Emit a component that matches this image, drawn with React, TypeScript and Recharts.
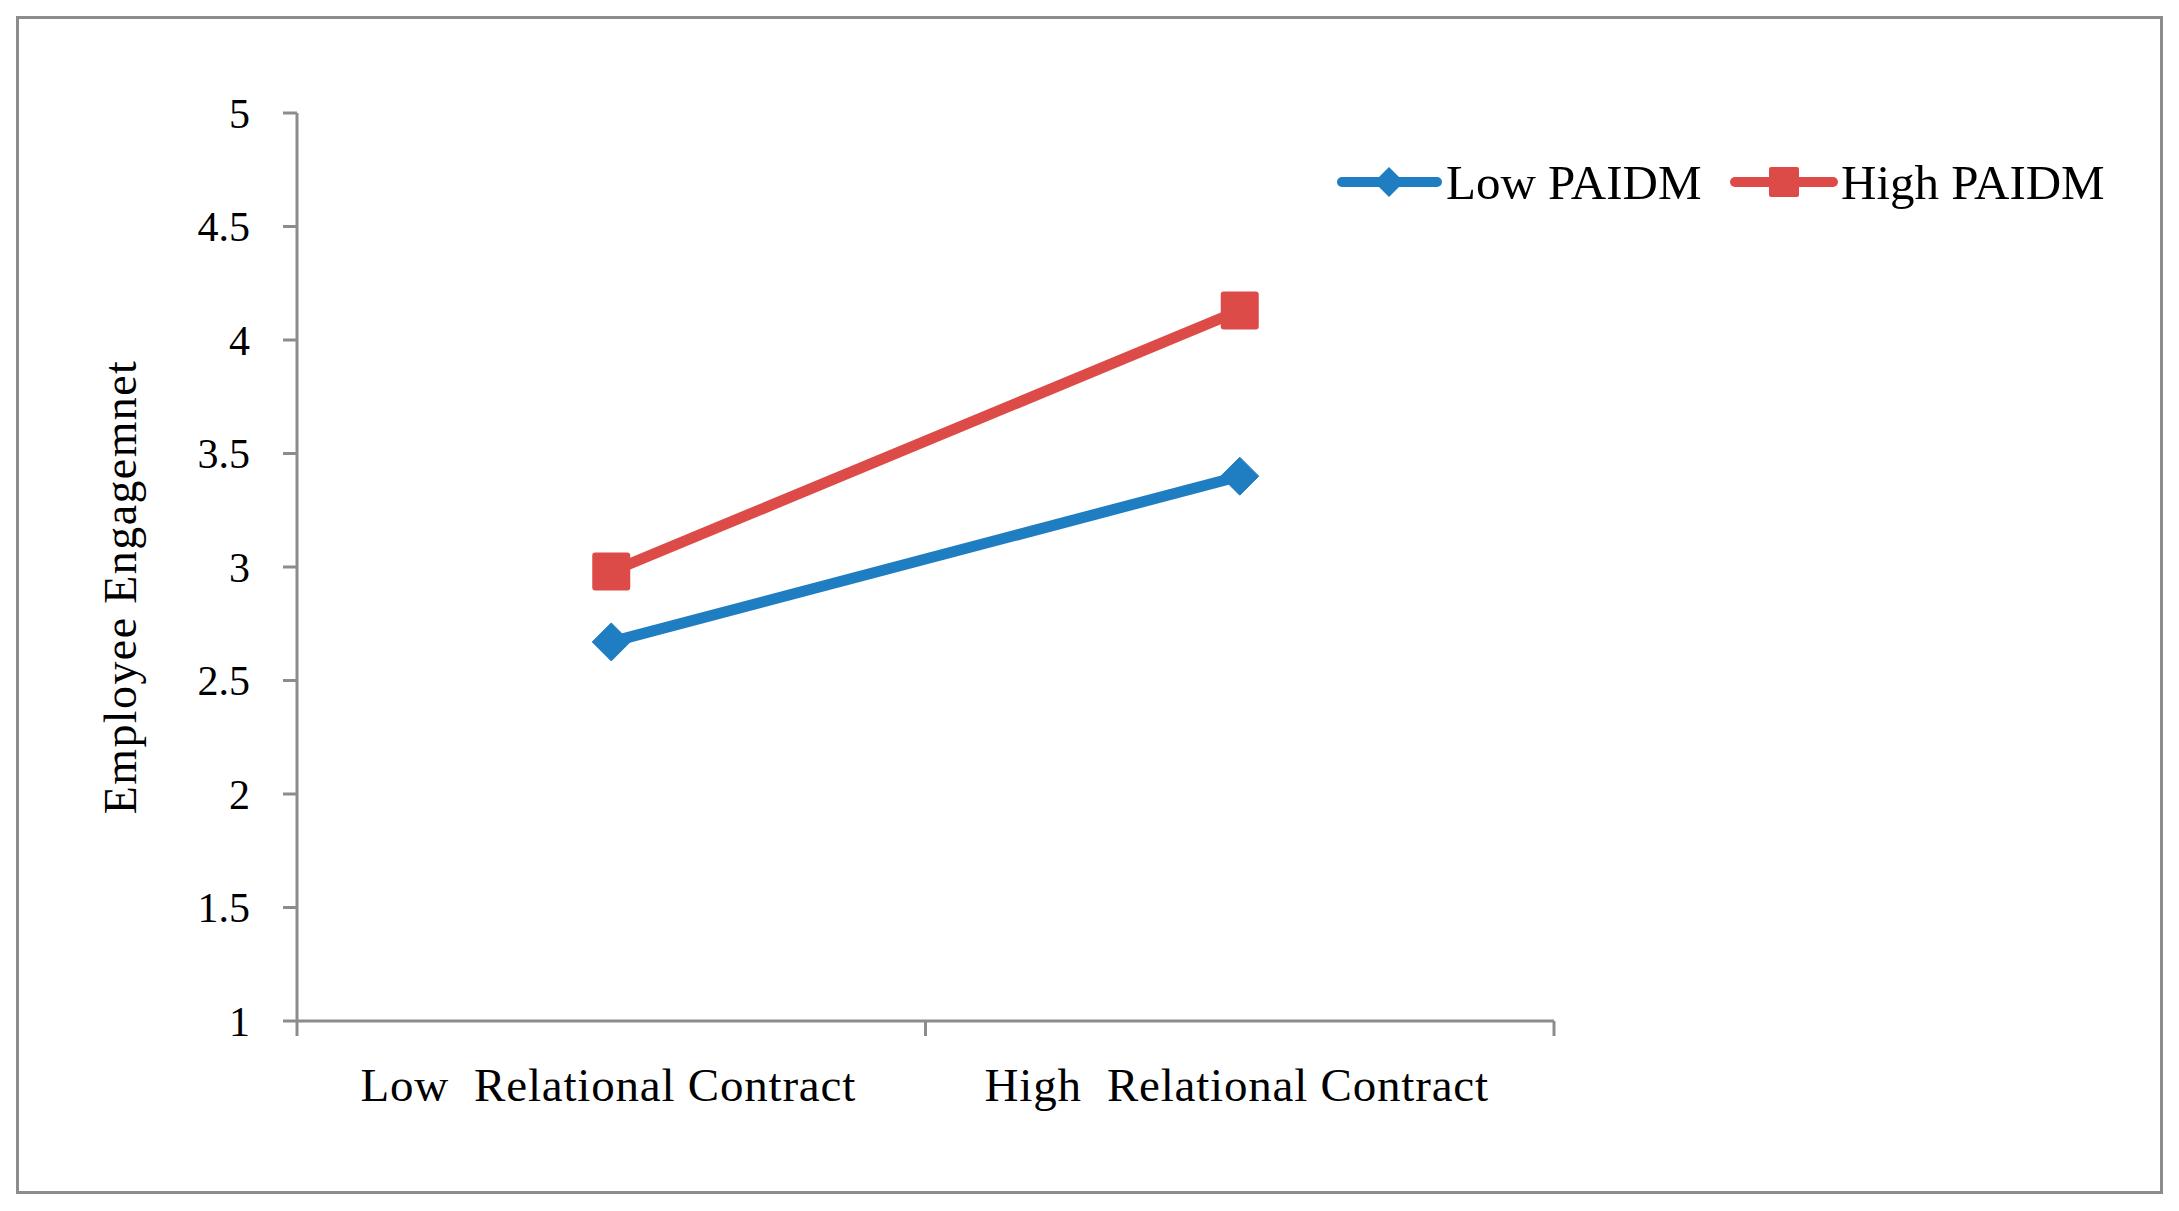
import React from 'react';
import { LineChart, Line, XAxis, YAxis } from 'recharts';

// Simple-slopes plot: employee engagement by relational contract level,
// split by low / high PAIDM.
const categories = ['Low  Relational Contract', 'High  Relational Contract'];
const lowPaidm = [2.67, 3.4];
const highPaidm = [2.98, 4.13];
const yTicks = [1, 1.5, 2, 2.5, 3, 3.5, 4, 4.5, 5];
const seriesNames = ['Low PAIDM', 'High PAIDM'];
const yTitle = 'Employee Engagemnet';

const data = categories.map((category, i) => ({
  category,
  low: lowPaidm[i],
  high: highPaidm[i],
}));

const BLUE = '#1F7DC1';
const RED = '#DD4B49';
const AXIS = '#8C8C8C';
const FONT = '"Liberation Serif", "Times New Roman", serif';

const W = 2179;
const H = 1211;

const DiamondDot = (props: any) => {
  const { cx, cy } = props;
  if (cx == null || cy == null) return null;
  const r = 19;
  return (
    <polygon
      points={`${cx},${cy - r} ${cx + r},${cy} ${cx},${cy + r} ${cx - r},${cy}`}
      fill={BLUE}
      stroke={BLUE}
      strokeWidth={1}
      strokeLinejoin="round"
    />
  );
};

const SquareDot = (props: any) => {
  const { cx, cy } = props;
  if (cx == null || cy == null) return null;
  const s = 38;
  return <rect x={cx - s / 2} y={cy - s / 2} width={s} height={s} rx={3} fill={RED} />;
};

// Category labels centred in each band, with tick marks at band boundaries.
const CategoryTick = (props: any) => {
  const { x, y, payload, index, visibleTicksCount } = props;
  const half = payload && typeof payload.offset === 'number' && payload.offset > 0 ? payload.offset : 314;
  const last = index === (visibleTicksCount ?? categories.length) - 1;
  return (
    <g>
      <line x1={x - half} x2={x - half} y1={y} y2={y + 15} stroke={AXIS} strokeWidth={3} />
      {last && <line x1={x + half} x2={x + half} y1={y} y2={y + 15} stroke={AXIS} strokeWidth={3} />}
      <text
        x={x - 3}
        y={y + 47}
        dy="0.71em"
        textAnchor="middle"
        fontFamily={FONT}
        fontSize={47}
        letterSpacing={0.8}
        fill="#000"
        style={{ whiteSpace: 'pre' }}
      >
        {payload.value}
      </text>
    </g>
  );
};

const YTitle = (props: any) => {
  const { viewBox } = props;
  const cx = 136;
  const cy = viewBox.y + viewBox.height / 2 + 20;
  return (
    <text
      x={cx}
      y={cy}
      transform={`rotate(-90 ${cx} ${cy})`}
      textAnchor="middle"
      fontFamily={FONT}
      fontSize={46}
      letterSpacing={1.4}
      fill="#000"
    >
      {yTitle}
    </text>
  );
};

const SeriesLegend = () => (
  <svg width={820} height={70} style={{ position: 'absolute', left: 1337, top: 150, overflow: 'visible' }}>
    <line x1={5} x2={100} y1={32} y2={32} stroke={BLUE} strokeWidth={10} strokeLinecap="round" />
    <polygon points="52,17 67,32 52,47 37,32" fill={BLUE} />
    <text x={109} y={32} dy="0.35em" fontFamily={FONT} fontSize={49} fill="#000">
      {seriesNames[0]}
    </text>
    <line x1={398} x2={496} y1={32} y2={32} stroke={RED} strokeWidth={10} strokeLinecap="round" />
    <rect x={432} y={17} width={30} height={30} rx={2} fill={RED} />
    <text x={504} y={32} dy="0.35em" fontFamily={FONT} fontSize={49} fill="#000">
      {seriesNames[1]}
    </text>
  </svg>
);

export default function App() {
  return (
    <div style={{ position: 'absolute', left: 0, top: 0, width: W, height: H, background: '#fff' }}>
      <div
        style={{
          position: 'absolute',
          left: 16,
          top: 16,
          width: 2147,
          height: 1178,
          boxSizing: 'border-box',
          border: `3px solid ${AXIS}`,
        }}
      />
      <div style={{ position: 'absolute', left: 0, top: 0 }}>
        <LineChart width={W} height={H} data={data} margin={{ top: 113, right: 625, left: 0, bottom: 90 }}>
          <XAxis
            dataKey="category"
            type="category"
            scale="band"
            height={100}
            axisLine={{ stroke: AXIS, strokeWidth: 3 }}
            tickLine={false}
            tickSize={0}
            tickMargin={0}
            interval={0}
            tick={<CategoryTick />}
          />
          <YAxis
            type="number"
            domain={[1, 5]}
            ticks={yTicks}
            width={297}
            interval={0}
            axisLine={{ stroke: AXIS, strokeWidth: 3 }}
            tickLine={{ stroke: AXIS, strokeWidth: 3 }}
            tickSize={14}
            tickMargin={33}
            tick={{ fontFamily: FONT, fontSize: 42, fill: '#000' }}
            label={<YTitle />}
          />
          <Line
            name={seriesNames[0]}
            dataKey="low"
            stroke={BLUE}
            strokeWidth={11}
            dot={<DiamondDot />}
            activeDot={false}
            isAnimationActive={false}
          />
          <Line
            name={seriesNames[1]}
            dataKey="high"
            stroke={RED}
            strokeWidth={11}
            dot={<SquareDot />}
            activeDot={false}
            isAnimationActive={false}
          />
        </LineChart>
      </div>
      <SeriesLegend />
    </div>
  );
}
